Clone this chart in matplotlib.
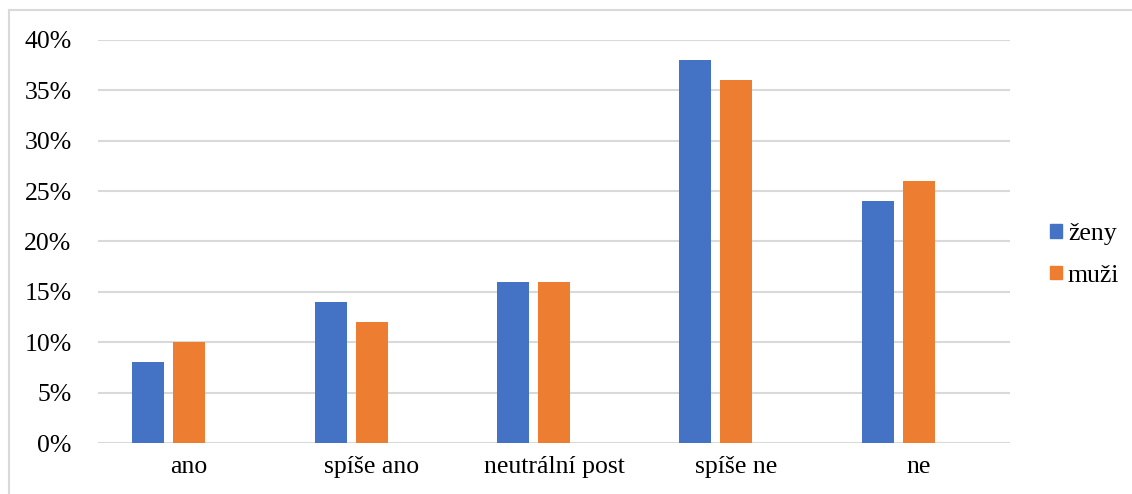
import matplotlib
matplotlib.use("Agg")
import matplotlib.pyplot as plt
from matplotlib.patches import Patch
from matplotlib.lines import Line2D
from matplotlib.ticker import PercentFormatter
import numpy as np

categories = ["ano", "spíše ano", "neutrální post", "spíše ne", "ne"]
zeny = [8, 14, 16, 38, 24]
muzi = [10, 12, 16, 36, 26]
series_names = ["ženy", "muži"]
colors = ["#4472C4", "#ED7D31"]

plt.rcParams['font.family'] = ['Liberation Serif', 'DejaVu Serif']

W, H = 1132, 494
fig = plt.figure(figsize=(W / 100, H / 100), dpi=100)
ax = fig.add_axes([98 / W, (H - 443) / H, (1010 - 98) / W, (443 - 40) / H])

x = np.arange(len(categories))
bw = 0.175
ax.bar(x - 0.225, zeny, width=bw, color=colors[0], label=series_names[0], zorder=3)
ax.bar(x, muzi, width=bw, color=colors[1], label=series_names[1], zorder=3)

ax.set_xlim(-0.5, len(categories) - 0.5)
ax.set_ylim(0, 40)
ax.set_yticks(np.arange(0, 41, 5))
ax.yaxis.set_major_formatter(PercentFormatter(decimals=0))
ax.set_xticks(x)
ax.set_xticklabels(categories)
ax.grid(axis='y', color='#d9d9d9', linewidth=1.5, zorder=0)
for s in ax.spines.values():
    s.set_visible(False)
ax.tick_params(axis='both', length=0, labelsize=18.5, colors='black')
ax.tick_params(axis='y', pad=19)
ax.tick_params(axis='x', pad=9)

handles = [Patch(color=c, label=n) for c, n in zip(colors, series_names)]
fig.legend(handles=handles, loc='center left', bbox_to_anchor=(1050 / W, (H - 255) / H),
           frameon=False, fontsize=18.5, handlelength=0.45, handleheight=0.45,
           handletextpad=0.25, labelspacing=0.75, borderpad=0, borderaxespad=0)

# outer chart border (left and top)
fig.add_artist(Line2D([8.5 / W, 8.5 / W], [0, (H - 10.5) / H], color='#d9d9d9', linewidth=1.5,
                      transform=fig.transFigure))
fig.add_artist(Line2D([8.5 / W, 1], [(H - 10.5) / H, (H - 10.5) / H], color='#d9d9d9', linewidth=1.5,
                      transform=fig.transFigure))

fig.savefig("out.png", dpi=100)
